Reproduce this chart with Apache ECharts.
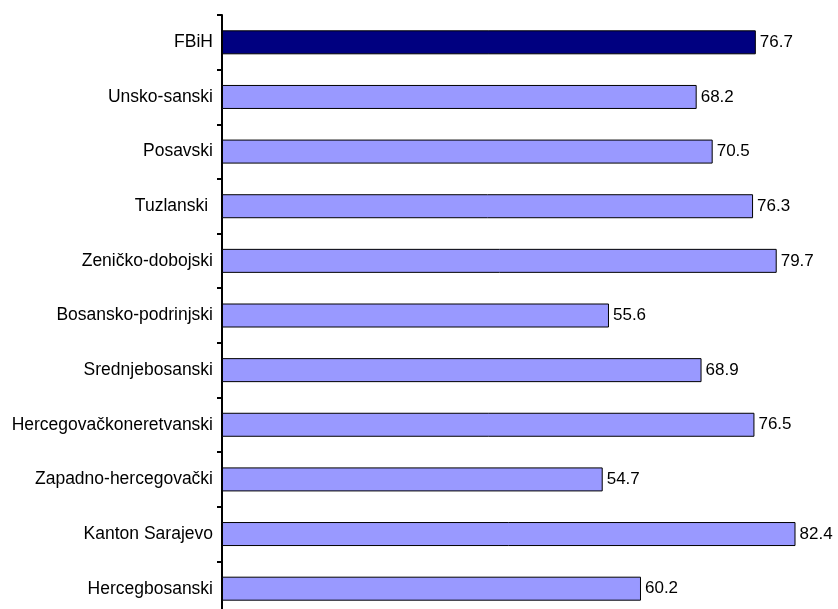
<!DOCTYPE html>
<html>
<head>
<meta charset="utf-8">
<script src="https://cdn.jsdelivr.net/npm/echarts@6/dist/echarts.min.js"></script>
<style>
  html, body { margin: 0; padding: 0; background: #fff; }
  #chart { width: 838px; height: 609px; }
</style>
</head>
<body>
<div id="chart"></div>
<script>
// Cantons of FBiH, top to bottom
const cantons = [
  'FBiH',
  'Unsko-sanski',
  'Posavski',
  'Tuzlanski ',
  'Zeničko-dobojski',
  'Bosansko-podrinjski',
  'Srednjebosanski',
  'Hercegovačkoneretvanski',
  'Zapadno-hercegovački',
  'Kanton Sarajevo',
  'Hercegbosanski'
];
const values = [76.7, 68.2, 70.5, 76.3, 79.7, 55.6, 68.9, 76.5, 54.7, 82.4, 60.2];

const FONT = '"Liberation Sans Narrow", "Arial Narrow", "Liberation Sans", Arial, sans-serif';

const chart = echarts.init(document.getElementById('chart'));
chart.setOption({
  animation: false,
  grid: { left: 222, top: 15, width: 696, height: 601, outerBoundsMode: 'none', containLabel: false },
  xAxis: {
    type: 'value',
    min: 0,
    max: 100,
    show: false
  },
  yAxis: {
    type: 'category',
    data: cantons,
    inverse: true,
    axisLine: { show: true, lineStyle: { color: '#000', width: 2 } },
    axisTick: { show: true, length: 5, lineStyle: { color: '#000', width: 2 } },
    axisLabel: { color: '#000', fontSize: 17.5, fontFamily: FONT, margin: 9 }
  },
  series: [{
    type: 'bar',
    data: values.map((v, i) => ({
      value: v,
      itemStyle: { color: i === 0 ? '#000080' : '#9999FF' }
    })),
    barWidth: 24,
    itemStyle: { borderColor: '#000', borderWidth: 1 },
    label: {
      show: true,
      position: 'right',
      distance: 4,
      color: '#000',
      fontSize: 17,
      fontFamily: FONT,
      formatter: p => p.value.toFixed(1)
    }
  }]
});
</script>
</body>
</html>
